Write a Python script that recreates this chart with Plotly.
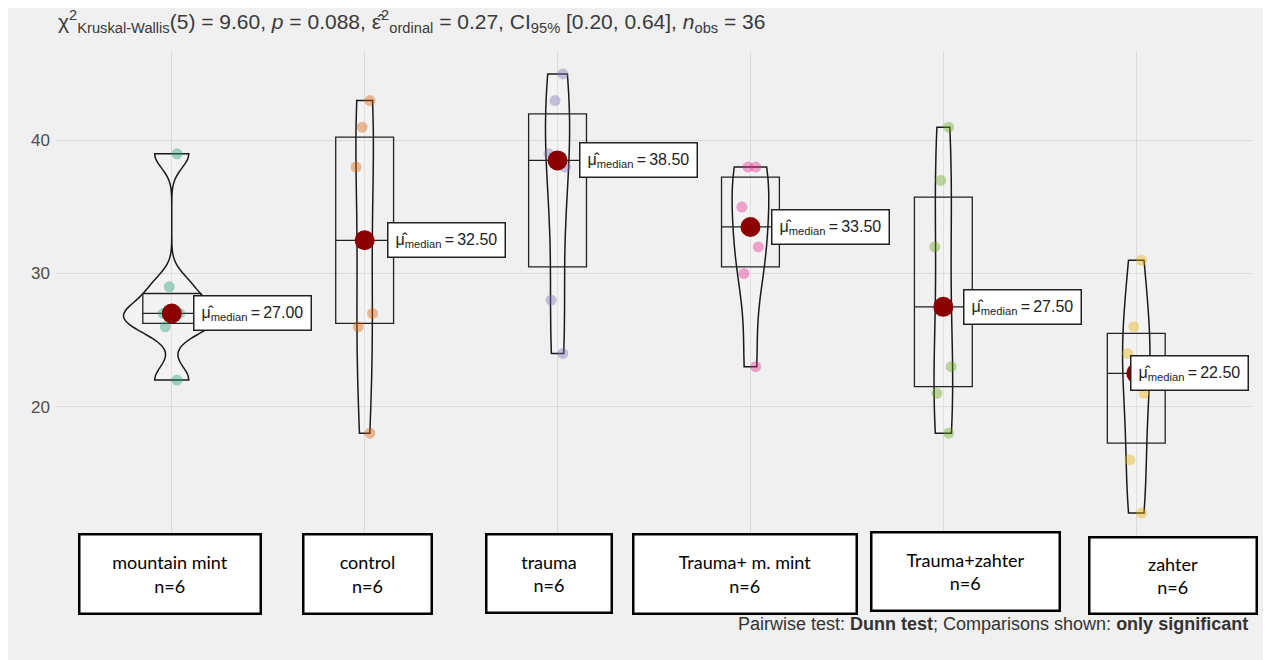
import numpy as np
import plotly.graph_objects as go

# ---------------- data ----------------
categories = ["mountain mint", "control", "trauma", "Trauma+ m. mint", "Trauma+zahter", "zahter"]
mountain_mint = [22, 26, 27, 27, 29, 39]
control = [18, 26, 27, 38, 41, 43]
trauma = [24, 28, 38, 39, 43, 45]
trauma_m_mint = [23, 30, 32, 35, 38, 38]
trauma_zahter = [18, 21, 23, 32, 37, 41]
zahter = [12, 16, 21, 24, 26, 31]
y_ticks = [20, 30, 40]

title_text = ("χ<sup>2</sup><sub>Kruskal-Wallis</sub>(5) = 9.60, <i>p</i> = 0.088, "
              "ε̂<sup>2</sup><sub>ordinal</sub> = 0.27, CI<sub>95%</sub> [0.20, 0.64], "
              "<i>n</i><sub>obs</sub> = 36")
caption_text = "Pairwise test: <b>Dunn test</b>; Comparisons shown: <b>only significant</b>"

groups = [mountain_mint, control, trauma, trauma_m_mint, trauma_zahter, zahter]
colors = ["27,158,119", "217,95,2", "117,112,179", "231,41,138", "102,166,30", "230,171,2"]

# ---------------- layout geometry ----------------
OFF = 8                       # page body margin
W, H = 1271 - OFF, 660 - OFF
ML, MR, MT, MB = 48, 19, 44, 125
PW, PH = W - ML - MR, H - MT - MB
XR = [-0.6, len(categories) - 0.4]
YR = [10.35, 46.65]
BG = "#f0f0f0"
FONT = "Liberation Sans, Arial, sans-serif"
VIOLIN_W = 0.5


def px2paper(px):            # page pixel -> paper
    return (px - OFF - ML) / PW


def py2paper(py):
    return (H - MB - (py - OFF)) / PH


def cat_px(i):               # page pixel of a category centre
    return OFF + ML + (i - XR[0]) * PW / (XR[1] - XR[0])


def nrd0(v):
    v = np.asarray(v, float)
    q1, q3 = np.percentile(v, [25, 75])
    lo = min(np.std(v, ddof=1), (q3 - q1) / 1.34)
    return 0.9 * lo * len(v) ** -0.2


def kde_max(v, bw):
    v = np.asarray(v, float)
    g = np.linspace(v.min(), v.max(), 512)
    d = np.exp(-0.5 * ((g[:, None] - v[None, :]) / bw) ** 2).sum(1)
    return d.max() / (len(v) * bw * np.sqrt(2 * np.pi))


# area scaling (ggplot scale = "area"): widest density gets the full width
bws = [nrd0(v) for v in groups]
peaks = [kde_max(v, b) for v, b in zip(groups, bws)]
vwidths = [VIOLIN_W * p / max(peaks) for p in peaks]

fig = go.Figure()

for i, (cat, vals) in enumerate(zip(categories, groups)):
    fig.add_trace(go.Violin(
        x=[cat] * len(vals), y=vals, name=cat, scalemode="width",
        width=vwidths[i], bandwidth=bws[i], spanmode="hard", points=False,
        line=dict(color="#1a1a1a", width=1.5), fillcolor="rgba(255,255,255,0.2)",
        showlegend=False, hoverinfo="skip"))

for i, (cat, vals) in enumerate(zip(categories, groups)):
    q1, med, q3 = np.percentile(vals, [25, 50, 75])
    fig.add_trace(go.Box(
        x=[cat], q1=[q1], median=[med], q3=[q3], lowerfence=[q1], upperfence=[q3],
        width=0.3, whiskerwidth=0, line=dict(color="#222222", width=1.3),
        fillcolor="rgba(0,0,0,0)", showlegend=False, hoverinfo="skip"))
    fig.add_trace(go.Box(
        x=[cat] * len(vals), y=vals, boxpoints="all", jitter=0.35, pointpos=0,
        width=0.3, line=dict(color="rgba(0,0,0,0)", width=0),
        fillcolor="rgba(0,0,0,0)",
        marker=dict(color="rgba(%s,0.4)" % colors[i], size=11, line=dict(width=0)),
        showlegend=False, hoverinfo="y"))

medians = [float(np.median(v)) for v in groups]
fig.add_trace(go.Scatter(
    x=categories, y=medians, mode="markers",
    marker=dict(color="#8B0000", size=20), showlegend=False, hoverinfo="y"))

annotations = []
label_shift = [21, 22, 21, 21, 20, -6]
for i, m in enumerate(medians):
    annotations.append(dict(
        x=i, y=m, xref="x", yref="y", xanchor="left", yanchor="middle",
        xshift=label_shift[i], showarrow=False,
        text="μ̂<sub>median</sub>\u2009=\u2009%.2f" % m,
        font=dict(family=FONT, size=16, color="#222222"),
        bgcolor="white", bordercolor="#222222", borderwidth=1.5, borderpad=7))

# category label boxes (page px: left, right, top, bottom)
box_geom = [
    (78, 262, 533, 615), (302, 433, 533, 615), (485, 613, 533, 614),
    (632, 858, 533, 615), (870, 1061, 531, 612), (1088, 1258, 536, 615)]
for i, (cat, vals) in enumerate(zip(categories, groups)):
    l, r, t, b = box_geom[i]
    bw = 2.5
    annotations.append(dict(
        x=i, y=py2paper((t + b) / 2), xref="x", yref="paper",
        xanchor="center", yanchor="middle",
        xshift=(l + r) / 2 - cat_px(i), showarrow=False,
        text="%s<br>n=%d" % (cat, len(vals)),
        width=r - l - 2 * bw, height=b - t - 2 * bw, borderpad=0,
        font=dict(family="Lato, Carlito, sans-serif", size=18, color="black"),
        bgcolor="white", bordercolor="black", borderwidth=bw))

annotations.append(dict(
    x=px2paper(56), y=py2paper(21), xref="paper", yref="paper", xanchor="left",
    yanchor="middle", showarrow=False, text=title_text,
    font=dict(family=FONT, size=21, color="#3a3a3a")))
annotations.append(dict(
    x=px2paper(1250), y=py2paper(624), xref="paper", yref="paper",
    xanchor="right", yanchor="middle", showarrow=False, text=caption_text,
    font=dict(family=FONT, size=18, color="#333333")))

fig.update_layout(
    width=W, height=H, margin=dict(l=ML, r=MR, t=MT, b=MB, pad=0),
    paper_bgcolor=BG, plot_bgcolor=BG, showlegend=False,
    violinmode="overlay", boxmode="overlay",
    annotations=annotations,
    xaxis=dict(type="category", categoryorder="array", categoryarray=categories,
               range=XR, showticklabels=False, ticks="", showgrid=True,
               gridcolor="#d9d9d9", gridwidth=1, zeroline=False, showline=False),
    yaxis=dict(range=YR, tickvals=y_ticks, ticks="", showgrid=True,
               gridcolor="#d9d9d9", gridwidth=1, zeroline=False, showline=False,
               tickfont=dict(family=FONT, size=17, color="#4d4d4d"),
               ticklabelstandoff=5),
)

fig.write_html("out.html")
